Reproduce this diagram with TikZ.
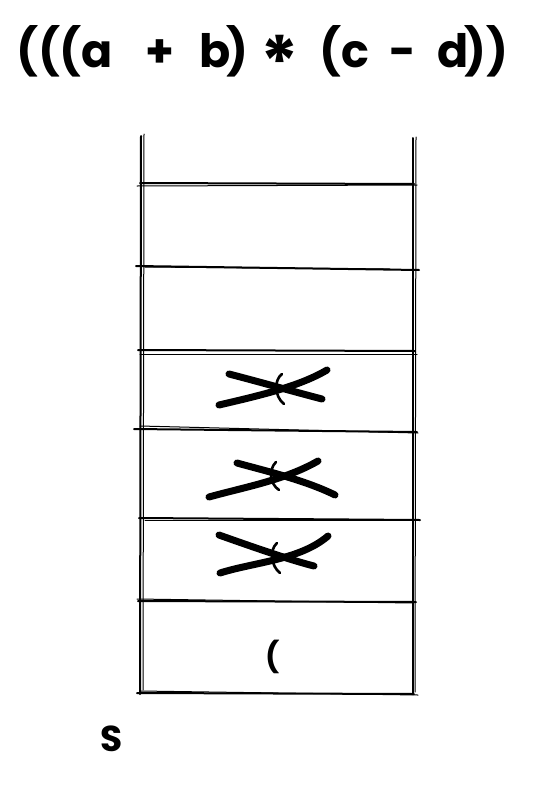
\documentclass[tikz,border=0pt]{standalone}
\usepackage{fontspec}
\setmainfont{Poppins}
\begin{document}
\begin{tikzpicture}[x=1pt,y=-1pt,
  sk/.style={line width=2pt, line cap=round},
  skl/.style={line width=1pt, line cap=round},
  cross/.style={line width=7pt, line cap=round},
  thin paren/.style={line width=2.6pt, line cap=round},
  cell/.style={minimum width=272pt, minimum height=#1, inner sep=0pt, outer sep=0pt},
  ttl/.style={font=\fontsize{46}{48}\selectfont\bfseries, anchor=base, inner sep=0pt},
]
\useasboundingbox (0,0) rectangle (538,787);
% title, one glyph at a time
\node[ttl] (t1) at (27,67) {(};
\node[ttl] (t2) at (49,67) {(};
\node[ttl] (t3) at (70,67) {(};
\node[ttl] (t4) at (97,67) {a};
\node[ttl] (t5) at (160,67) {+};
\node[ttl] (t6) at (215,67) {b};
\node[ttl] (t7) at (237,67) {)};
\node[ttl, anchor=center, font=\fontsize{72}{74}\selectfont\bfseries] (t8) at (280,62) {*};
\node[ttl] (t9) at (330,67) {(};
\node[ttl] (t10) at (355,67) {c};
\node[ttl] (t11) at (403,67) {-};
\node[ttl] (t12) at (453,67) {d};
\node[ttl] (t13) at (475,67) {)};
\node[ttl] (t14) at (497,67) {)};
% cells (named, invisible)
\node[cell=90pt] (c0) at (278,650) {};
\node[cell=83pt] (c1) at (278,560) {};
\node[cell=89pt] (c2) at (278,475) {};
\node[cell=79pt] (c3) at (278,390) {};
\node[cell=84pt] (c4) at (278,309) {};
\node[cell=83pt] (c5) at (278,225) {};
% verticals
\draw[sk] (141,136) -- (140,694);
\draw[skl] (144,134) -- (143,690);
\draw[sk] (413,138) -- (413,694);
\draw[skl] (416,137) -- (415,692);
% horizontals (sketchy doubles)
\draw[sk] (140,183) -- (414,184);
\draw[skl] (137,186) -- (417,185);
\draw[sk] (136,266) -- (419,270);
\draw[skl] (145,267) -- (390,269);
\draw[sk] (138,350) -- (415,351);
\draw[skl] (140,354) -- (417,354);
\draw[sk] (134,429) -- (417,432);
\draw[skl] (140,426) -- (418,433);
\draw[sk] (139,518) -- (420,520);
\draw[skl] (145,520) -- (390,520);
\draw[sk] (138,601) -- (416,602);
\draw[skl] (137,599) -- (413,603);
\draw[sk] (137,693) -- (414,694);
\draw[skl] (140,691) -- (418,695);
% cross 1 (cell c3)
\draw[thin paren] (282,374) .. controls (274,380) and (274,396) .. (284,404);
\draw[cross] (229,374) .. controls (260,382) and (295,392) .. (322,399);
\draw[cross] (219,405) .. controls (262,395) and (300,386) .. (327,370);
% cross 2 (cell c2)
\draw[thin paren] (276,462) .. controls (268,470) and (270,484) .. (279,490);
\draw[cross] (237,463) .. controls (262,470) and (305,480) .. (335,495);
\draw[cross] (209,497) .. controls (245,487) and (285,480) .. (318,461);
% cross 3 (cell c1)
\draw[thin paren] (277,543) .. controls (269,550) and (271,566) .. (280,573);
\draw[cross] (219,535) .. controls (250,546) and (290,560) .. (314,566);
\draw[cross] (220,573) .. controls (255,562) and (300,560) .. (328,536);
% open paren in bottom cell
\node[font=\fontsize{30}{32}\selectfont\bfseries, inner sep=0pt] (p0) at (273,657) {(};
% label S
\node[font=\fontsize{36}{38}\selectfont\bfseries, inner sep=0pt] (s) at (112,739) {S};
\end{tikzpicture}
\end{document}
